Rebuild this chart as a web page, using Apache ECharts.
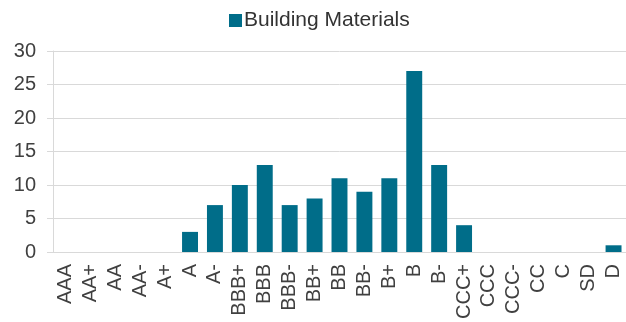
<!DOCTYPE html>
<html>
<head>
<meta charset="utf-8">
<script src="https://cdn.jsdelivr.net/npm/echarts@6/dist/echarts.min.js"></script>
<style>
  html, body { margin: 0; padding: 0; background: #fff; }
  #chart { width: 626px; height: 322px; }
</style>
</head>
<body>
<div id="chart"></div>
<script>
// Rating scale along the x axis
const ratings = ['AAA', 'AA+', 'AA', 'AA-', 'A+', 'A', 'A-', 'BBB+', 'BBB', 'BBB-', 'BB+', 'BB', 'BB-', 'B+', 'B', 'B-', 'CCC+', 'CCC', 'CCC-', 'CC', 'C', 'SD', 'D'];
// Issuer counts per rating
const buildingMaterials = [0, 0, 0, 0, 0, 3, 7, 10, 13, 7, 8, 11, 9, 11, 27, 13, 4, 0, 0, 0, 0, 0, 1];
const seriesName = 'Building Materials';

const font = '"Liberation Sans", Arial, sans-serif';
const chart = echarts.init(document.getElementById('chart'));
chart.setOption({
  animation: false,
  textStyle: { fontFamily: font },
  legend: {
    left: 224,
    top: 5,
    itemWidth: 13,
    itemHeight: 13,
    itemGap: 4,
    icon: 'rect',
    textStyle: { fontSize: 21, color: '#333', fontFamily: font, padding: [0, 0, 0, -3] },
    data: [seriesName]
  },
  grid: { left: 53, right: -2, top: 51, bottom: 68, containLabel: false },
  xAxis: {
    type: 'category',
    data: ratings,
    axisLine: { lineStyle: { color: '#d9d9d9', width: 1 } },
    axisTick: { show: false },
    axisLabel: { rotate: 90, fontSize: 20, color: '#404040', margin: 12, interval: 0, fontFamily: font }
  },
  yAxis: {
    type: 'value',
    min: 0,
    max: 30,
    interval: 5,
    axisLine: { show: true, lineStyle: { color: '#d9d9d9' } },
    axisTick: { show: true, length: 6, lineStyle: { color: '#d9d9d9' } },
    splitLine: { lineStyle: { color: '#d9d9d9' } },
    axisLabel: { fontSize: 20, color: '#404040', margin: 17, fontFamily: font }
  },
  series: [{
    name: seriesName,
    type: 'bar',
    data: buildingMaterials,
    barCategoryGap: '36%',
    itemStyle: { color: '#006d89' }
  }]
});
</script>
</body>
</html>
